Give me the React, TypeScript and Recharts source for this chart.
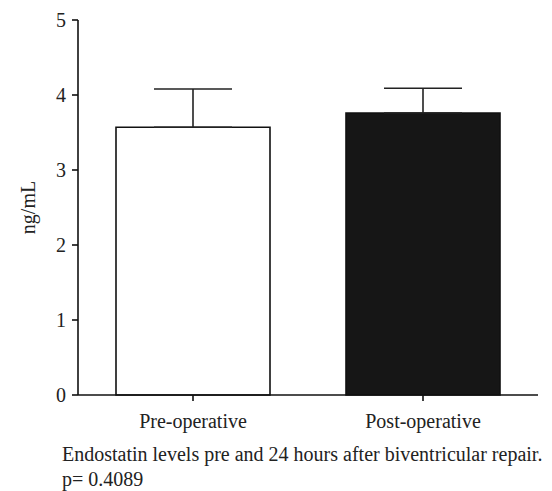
import React from "react";
import { Bar, BarChart, Cell, ErrorBar, XAxis, YAxis } from "recharts";

const groups = ["Pre-operative", "Post-operative"];
const means = [3.57, 3.76];
const upperErrors = [0.51, 0.33];
const barColors = ["#ffffff", "#161616"];
const yTicks = [0, 1, 2, 3, 4, 5];

const data = groups.map((name, i) => ({
  name,
  value: means[i],
  err: [0, upperErrors[i]],
}));

const font = "'Times New Roman', 'Liberation Serif', Tinos, serif";

export default function App() {
  return (
    <div style={{ position: "absolute", left: 0, top: 0, width: 552, height: 491, background: "#fff", fontFamily: font }}>
      <BarChart
        width={552}
        height={440}
        data={data}
        margin={{ top: 20, right: 14, bottom: 0, left: 0 }}
        barSize={154}
      >
        <XAxis
          dataKey="name"
          stroke="#111"
          strokeWidth={1.6}
          tickSize={6}
          height={45}
          tick={{ fill: "#222", fontSize: 20, fontFamily: font, dy: 11 }}
        />
        <YAxis
          domain={[0, 5]}
          ticks={yTicks}
          stroke="#111"
          strokeWidth={1.6}
          tickSize={6}
          width={78}
          tick={{ fill: "#222", fontSize: 20, fontFamily: font, dx: -4 }}
          label={{ value: "ng/mL", angle: -90, position: "insideLeft", offset: 28, style: { fill: "#222", fontSize: 20, fontFamily: font, textAnchor: "middle" } }}
        />
        <Bar dataKey="value" stroke="#111" strokeWidth={1.6} isAnimationActive={false}>
          {data.map((d, i) => (
            <Cell key={d.name} fill={barColors[i]} />
          ))}
          <ErrorBar dataKey="err" width={39} stroke="#222" strokeWidth={1.6} isAnimationActive={false} />
        </Bar>
      </BarChart>
      <div style={{ position: "absolute", left: 62, top: 442, fontSize: 20, lineHeight: "25px", color: "#222", whiteSpace: "nowrap" }}>
        Endostatin levels pre and 24 hours after biventricular repair.
        <br />
        p= 0.4089
      </div>
    </div>
  );
}
